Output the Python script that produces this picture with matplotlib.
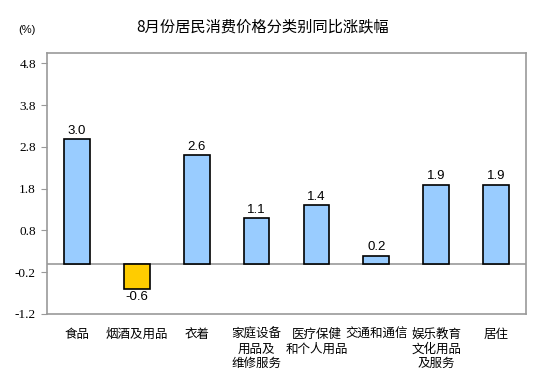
import matplotlib
matplotlib.use("Agg")
import matplotlib.pyplot as plt

plt.rcParams['font.family'] = ['Noto Sans CJK SC', 'DejaVu Sans']

categories = ['食品', '烟酒及用品', '衣着', '家庭设备\n用品及\n维修服务', '医疗保健\n和个人用品',
              '交通和通信', '娱乐教育\n文化用品\n及服务', '居住']
values = [3.0, -0.6, 2.6, 1.1, 1.4, 0.2, 1.9, 1.9]
yticks = [-1.2, -0.2, 0.8, 1.8, 2.8, 3.8, 4.8]
title = '8月份居民消费价格分类别同比涨跌幅'

fig = plt.figure(figsize=(5.43, 3.89), dpi=100)
ax = fig.add_axes([47/543, 1 - 314/389, 479/543, 261/389])

x = list(range(len(categories)))
colors = ['#99CCFF' if v >= 0 else '#FFCC00' for v in values]
ax.bar(x, values, width=0.43, color=colors, edgecolor='black', linewidth=1.2, zorder=3)
ax.axhline(0, color='#999999', linewidth=1.2, zorder=2)

for xi, v in zip(x, values):
    if v >= 0:
        ax.text(xi, v + 0.05, f'{v:.1f}', ha='center', va='bottom', fontsize=9.5,
                fontfamily='Liberation Sans')
    else:
        ax.text(xi, v - 0.06, f'{v:.1f}', ha='center', va='top', fontsize=9.5,
                fontfamily='Liberation Sans')

ax.set_xlim(-0.5, len(categories) - 0.5)
ax.set_ylim(-1.2, 5.05)
ax.set_yticks(yticks)
ax.set_yticklabels([f'{t:.1f}' for t in yticks])
for lab in ax.get_yticklabels():
    lab.set_fontfamily('Liberation Serif')
    lab.set_fontsize(9.5)
ax.tick_params(axis='y', length=4, color='#999999', pad=4)
ax.set_xticks(x)
ax.set_xticklabels(categories, fontsize=9, linespacing=1.15, va='top')
ax.tick_params(axis='x', length=0, pad=10)
for s in ax.spines.values():
    s.set_color('#999999')
    s.set_linewidth(1.2)

fig.text(263/543, 1 - 27/389, title, ha='center', va='center', fontsize=11)
fig.text(27/543, 1 - 30/389, '(%)', ha='center', va='center', fontsize=8,
         fontfamily='Liberation Sans')

fig.savefig('out.png', dpi=100)
